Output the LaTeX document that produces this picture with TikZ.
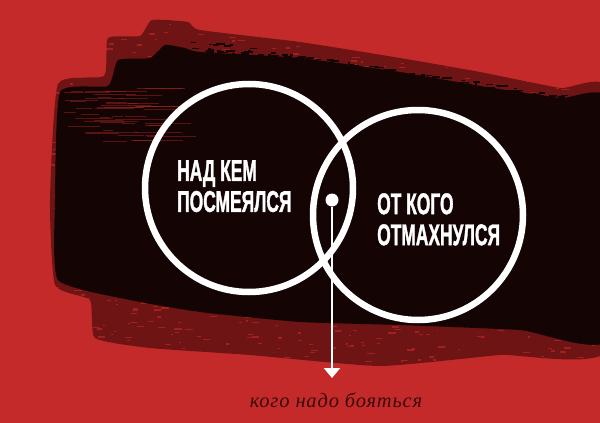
\documentclass[tikz,border=0pt]{standalone}
\usepackage{fontspec}
\newfontfamily\headfont[FakeStretch=0.58, BoldFeatures={FakeBold=1.2}]{Liberation Sans}
\newfontfamily\notefont[LetterSpace=4]{Liberation Serif}
\usetikzlibrary{positioning, arrows.meta}
\definecolor{bgred}{HTML}{C42A2A}
\definecolor{ink}{HTML}{140404}
\definecolor{inkred}{HTML}{6E1414}
\definecolor{notecol}{HTML}{3A0A0A}

\begin{document}
\begin{tikzpicture}[x=1pt, y=-1pt,
		ring/.style={circle, draw=white, line width=6.5pt, minimum size=#1, inner sep=0pt},
		caption/.style={text=white, align=left, inner sep=0pt, font={\headfont\bfseries\fontsize{30}{31}\selectfont}},
		hubdot/.style={circle, fill=white, minimum size=13pt, inner sep=0pt},
		pointer/.style={draw=white, line width=2.6pt, -{Triangle[width=16pt, length=10pt]}}]
		\clip (0,0) rectangle (600,423);
		\fill[bgred] (0,0) rectangle (600,423);
		% brush stroke
		\fill[inkred] plot[smooth cycle, tension=.3] coordinates {(58,84) (104,76) (108,38) (140,36) (152,20) (188,22) (200,30) (300,42) (400,58) (480,72) (560,88) (610,92) (610,348) (500,355) (380,366) (250,355) (150,348) (95,338) (90,300) (55,285) (50,200)};
		\pgfmathsetseed{42}
		\foreach \i in {1,...,1100}{
			\pgfmathsetmacro{\xa}{50+rnd*560} \pgfmathsetmacro{\ya}{18+rnd*350}
			\fill[bgred, opacity=.6] (\xa,\ya) rectangle ++(1.5+rnd*6,1.3);
		}
		\fill[ink] plot[smooth cycle, tension=.3] coordinates {(60,92) (108,86) (118,60) (150,58) (165,45) (185,48) (200,52) (300,58) (400,72) (480,86) (560,98) (610,102) (610,338) (520,330) (400,325) (300,322) (200,312) (130,300) (58,280) (55,200)};
		\foreach \i in {1,...,260}{
			\pgfmathsetmacro{\xa}{190+rnd*410} \pgfmathsetmacro{\ya}{40+0.15*(\xa-200)+rnd*14}
			\fill[ink] (\xa,\ya) rectangle ++(2+rnd*8,1.5);
		}
		\foreach \i in {1,...,50}{
			\pgfmathsetmacro{\xa}{62+rnd*90} \pgfmathsetmacro{\ya}{88+rnd*55}
			\draw[bgred, opacity=.4, line width=.8pt] (\xa,\ya) -- ++(10+rnd*45,0);
		}
		% venn
		\node[ring=208pt] (laugh) at (249,188) {};
		\node[ring=210pt] (wave) at (418,215) {};
		\node[caption, anchor=north west] (laughtext) at (177,160) {НАД КЕМ\\ПОСМЕЯЛСЯ};
		\node[caption, anchor=north west] (wavetext) at (377,193) {ОТ КОГО\\ОТМАХНУЛСЯ};
		\node[hubdot] (hub) at (332,200) {};
		\coordinate (tip) at (332,378);
		\draw[pointer] (hub) -- (tip);
		\node[text=notecol, font={\notefont\itshape\fontsize{20.5}{24}\selectfont}, anchor=base] (fear) at (336,407) {кого надо бояться};
\end{tikzpicture}
\end{document}
